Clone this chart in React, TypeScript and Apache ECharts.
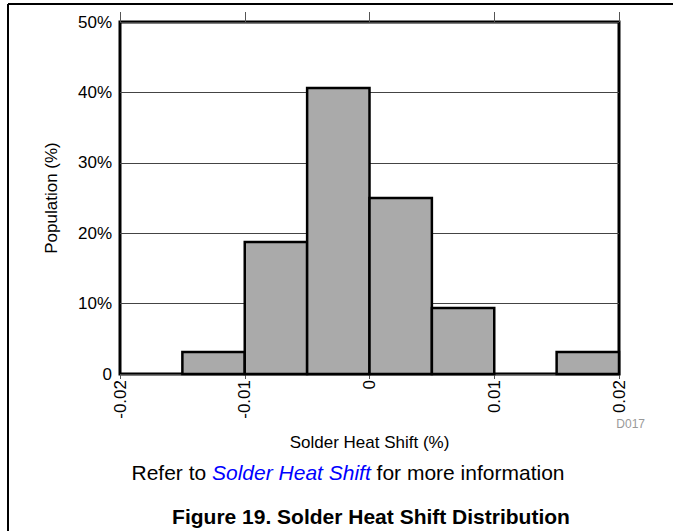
import React, { useEffect, useRef } from "react";
import * as echarts from "echarts";

const binStarts = [-0.015, -0.01, -0.005, 0, 0.005, 0.01, 0.015];
const binEnds = [-0.01, -0.005, 0, 0.005, 0.01, 0.015, 0.02];
const population = [3.125, 18.75, 40.625, 25, 9.375, 0, 3.125];
const xTickLabels = ["-0.02", "-0.01", "0", "0.01", "0.02"];
const yTickLabels = ["0", "10%", "20%", "30%", "40%", "50%"];

const FONT = "'Liberation Sans', Arial, sans-serif";

export default function App() {
  const ref = useRef<HTMLDivElement>(null);
  useEffect(() => {
    if (!ref.current) return;
    const chart = echarts.init(ref.current, null, { renderer: "svg" });
    const data = binStarts.map((s, i) => [s, binEnds[i], population[i]]);
    const xLabelFor = (v: number) => {
      const idx = Math.round((v + 0.02) / 0.01);
      return xTickLabels[idx] ?? "";
    };
    const yLabelFor = (v: number) => {
      const idx = Math.round(v / 10);
      return yTickLabels[idx] ?? "";
    };
    chart.setOption({
      animation: false,
      backgroundColor: "#fff",
      textStyle: { fontFamily: FONT },
      grid: {
        left: 120,
        top: 22,
        right: 54,
        bottom: 157,
        show: true,
        borderColor: "#000",
        borderWidth: 3,
        backgroundColor: "transparent",
      },
      xAxis: [
        {
          type: "value",
          min: -0.02,
          max: 0.02,
          interval: 0.01,
          position: "bottom",
          name: "Solder Heat Shift (%)",
          nameLocation: "middle",
          nameGap: 60,
          nameTextStyle: { fontSize: 17, color: "#000", fontFamily: FONT },
          axisLine: { show: false },
          axisTick: { show: true, length: 5, lineStyle: { color: "#555", width: 1 } },
          axisLabel: {
            rotate: 90,
            fontSize: 17,
            color: "#000",
            margin: 6,
            fontFamily: FONT,
            formatter: (v: number) => xLabelFor(v),
          },
          splitLine: { show: false },
        },
        {
          type: "value",
          min: -0.02,
          max: 0.02,
          interval: 0.01,
          position: "top",
          axisLine: { show: false },
          axisTick: { show: true, length: 10, lineStyle: { color: "#555", width: 1 } },
          axisLabel: { show: false },
          splitLine: { show: false },
        },
      ],
      yAxis: {
        type: "value",
        min: 0,
        max: 50,
        interval: 10,
        name: "Population (%)",
        nameLocation: "middle",
        nameGap: 60,
        nameTextStyle: { fontSize: 17, color: "#000", fontFamily: FONT },
        axisLine: { show: false },
        axisTick: { show: false },
        axisLabel: {
          fontSize: 17,
          color: "#000",
          margin: 8,
          fontFamily: FONT,
          formatter: (v: number) => yLabelFor(v),
        },
        splitLine: { show: true, lineStyle: { color: "#444", width: 1 } },
      },
      series: [
        {
          type: "custom",
          xAxisIndex: 0,
          encode: { x: [0, 1], y: 2 },
          data,
          renderItem: (params: any, api: any) => {
            const h = api.value(2);
            if (!h) return null;
            const p0 = api.coord([api.value(0), 0]);
            const p1 = api.coord([api.value(1), h]);
            return {
              type: "rect",
              shape: {
                x: p0[0],
                y: p1[1],
                width: p1[0] - p0[0],
                height: p0[1] - p1[1],
              },
              style: { fill: "#aaaaaa", stroke: "#000", lineWidth: 2.5 },
            };
          },
          z: 3,
        },
      ],
      graphic: [
        {
          type: "line",
          shape: { x1: 8, y1: 4, x2: 673, y2: 4 },
          style: { stroke: "#000", lineWidth: 2 },
        },
        {
          type: "line",
          shape: { x1: 8, y1: 4, x2: 8, y2: 531 },
          style: { stroke: "#000", lineWidth: 2 },
        },
        {
          type: "text",
          x: 645,
          y: 418,
          style: {
            text: "D017",
            fill: "#999",
            fontSize: 12,
            fontFamily: FONT,
            align: "right",
            verticalAlign: "top",
          },
        },
        {
          type: "text",
          x: 348,
          y: 472,
          style: {
            text: "Refer to {b|Solder Heat Shift} for more information",
            fill: "#000",
            fontSize: 21,
            fontFamily: FONT,
            align: "center",
            verticalAlign: "middle",
            rich: {
              b: { fill: "#0000ff", fontStyle: "italic", fontSize: 21, fontFamily: FONT },
            },
          },
        },
        {
          type: "text",
          x: 371,
          y: 516,
          style: {
            text: "Figure 19. Solder Heat Shift Distribution",
            fill: "#000",
            fontSize: 21,
            fontWeight: "bold",
            fontFamily: FONT,
            align: "center",
            verticalAlign: "middle",
          },
        },
      ],
    });
    return () => chart.dispose();
  }, []);
  return (
    <div
      ref={ref}
      style={{ position: "fixed", left: 0, top: 0, width: 673, height: 531 }}
    />
  );
}
